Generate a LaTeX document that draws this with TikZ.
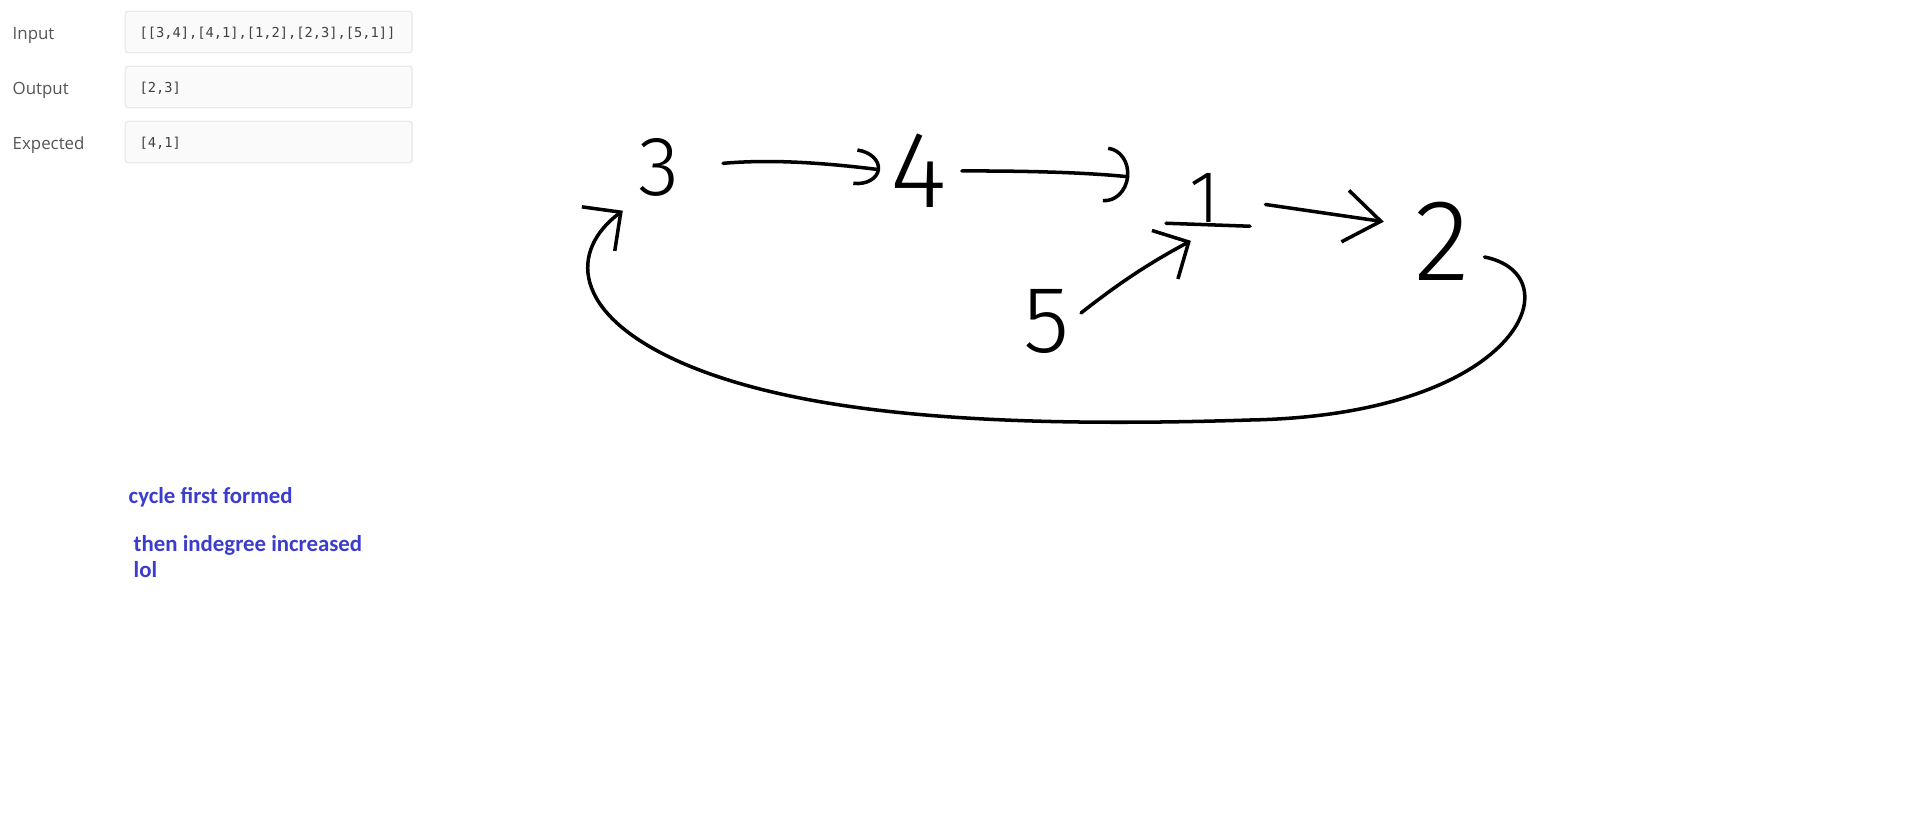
\documentclass[tikz,border=0pt]{standalone}
\usepackage{fontspec}
\usepackage{xcolor}
\usepackage{tikz}
\usetikzlibrary{arrows.meta}

\setmainfont{Open Sans}
\IfFontExistsTF{Fira Sans Light}{\newfontfamily\handfont{Fira Sans Light}}{%
  \IfFontExistsTF{DejaVu Sans ExtraLight}{\newfontfamily\handfont{DejaVu Sans ExtraLight}}{%
    \newfontfamily\handfont{Fira Sans}}}
\newfontfamily\notefont{Carlito}
\newfontfamily\codefont{DejaVu Sans Mono}

\definecolor{notes}{RGB}{60,60,205}
\definecolor{boxfill}{RGB}{250,250,250}
\definecolor{boxline}{RGB}{234,234,234}
\definecolor{labelgray}{RGB}{85,85,85}

\tikzset{
  pen/.style={line width=1pt, line cap=round, line join=round},
  digit/.style={font=\handfont\fontsize{#1}{#1}\selectfont, inner sep=0pt},
  field/.style={draw=boxline, fill=boxfill, rounded corners=0.3mm, anchor=west,
    inner xsep=1.45mm, inner ysep=0pt, text width=25.8mm, minimum height=4.15mm, align=left,
    text height=1.3mm, text depth=0.2mm,
    font=\codefont\fontsize{3.9}{4.5}\selectfont, text=black!75},
  caption/.style={anchor=base west, inner sep=0pt, text=labelgray, font=\fontsize{4.8}{6}\selectfont},
  note/.style={anchor=base west, inner sep=0pt, text=notes, align=left,
    font=\notefont\bfseries\fontsize{6.5}{7.4}\selectfont}
}

\begin{document}
\begin{tikzpicture}[x=0.1mm, y=-0.1mm]
  \useasboundingbox (0,0) rectangle (1914,833);

  % test case panel
  \node[caption] (inputlbl) at (12,39) {Input};
  \node[field] (inputval) at (124.5,32) {[[3,4],[4,1],[1,2],[2,3],[5,1]]};
  \node[caption] (outputlbl) at (12,94) {Output};
  \node[field] (outputval) at (124.5,87) {[2,3]};
  \node[caption] (expectedlbl) at (12,149) {Expected};
  \node[field] (expectedval) at (124.5,142) {[4,1]};

  % the graph
  \node[digit=24] (three) at (659,167) {3};
  \node[digit=31] (four) at (919,171) {4};
  \node[digit=21] (one) at (1205,198) {1};
  \node[digit=33] (two) at (1442,241) {2};
  \node[digit=27] (five) at (1047,321) {5};
  \draw[pen] ([xshift=-3.9mm]one.south) -- ([xshift=4.5mm,yshift=-0.3mm]one.south);

  \draw[pen, -{Arc Barb[length=2.5mm, width=3.7mm]}, shorten <=4.3mm, shorten >=1mm]
    (three.east) to[bend left=6] (four.west);
  \draw[pen, -{Arc Barb[length=2.4mm, width=5.6mm]}, shorten <=1.4mm, shorten >=6mm]
    (four.east) to[bend left=3] ([yshift=1.5mm]one.west);
  \draw[pen, -{Straight Barb[length=2.7mm, width=5.5mm]}, shorten <=1.3mm, shorten >=1.6mm]
    (five.east) to[bend left=5] ([yshift=-1mm]one.south);
  \draw[pen, -{Straight Barb[length=3.6mm, width=5.2mm]}, shorten <=4.5mm, shorten >=3mm]
    (one.east) -- ([yshift=1.5mm]two.west);
  % back edge 2 -> 3 closes the cycle
  \draw[pen, -{Straight Barb[length=2.8mm, width=5.5mm]}]
    ([xshift=1.4mm,yshift=-1.6mm]two.east) .. controls (1575,275) and (1520,415) .. (1250,420)
    .. controls (1000,428) and (802,416) .. (680,362)
    .. controls (570,313) and (570,250) .. ([xshift=-1.5mm,yshift=-1.4mm]three.south west);

  % notes
  \node[note] (cyclenote) at (128,503) {cycle first formed};
  \node[note] (indegnote) at (133,577) {then indegree increased\\lol};
\end{tikzpicture}
\end{document}
